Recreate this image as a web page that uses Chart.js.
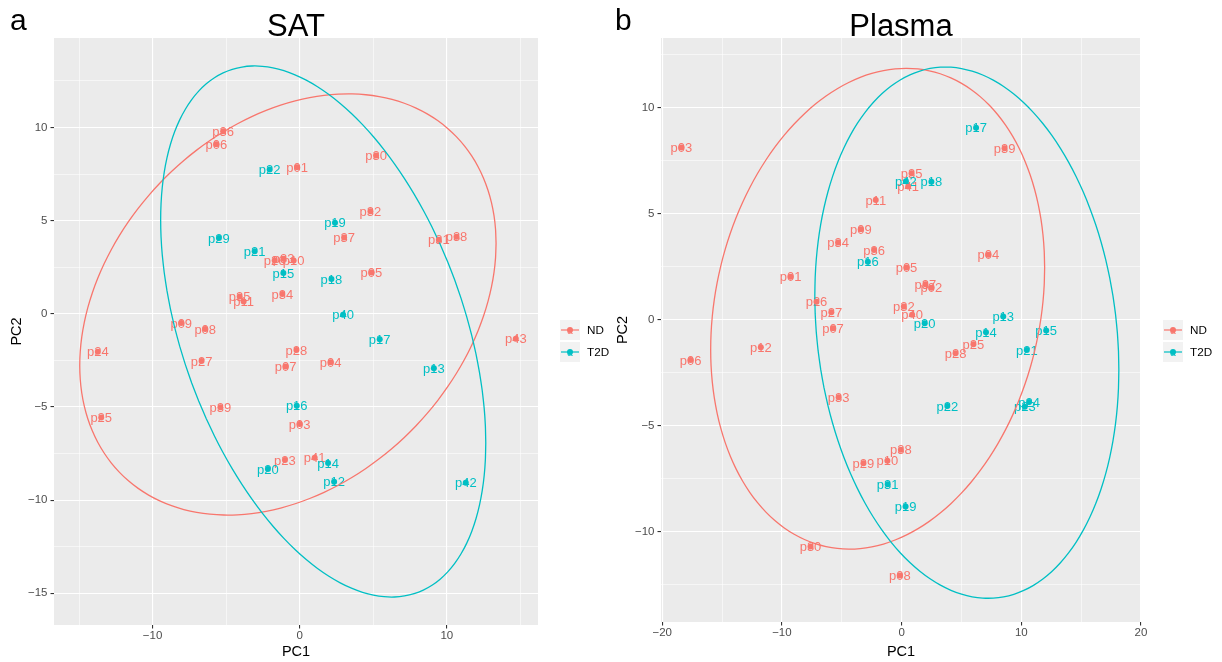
<!DOCTYPE html>
<html lang="en">
<head>
<meta charset="UTF-8">
<title>PCA - SAT and Plasma</title>
<script src="https://cdn.jsdelivr.net/npm/chart.js"></script>
<style>
  body { margin: 0; background: #fff; width: 1222px; height: 662px; overflow: hidden; }
  .panel { position: absolute; top: 0; width: 611px; height: 662px; }
  #satBox { left: 0; }
  #plasmaBox { left: 611px; }
</style>
</head>
<body>
<div class="panel" id="satBox"><canvas id="satChart" width="611" height="662"></canvas></div>
<div class="panel" id="plasmaBox"><canvas id="plasmaChart" width="611" height="662"></canvas></div>

<script>
// ---- SAT panel (a) ----
const satNdNames = ['p36','p06','p01','p30','p32','p37','p31','p38','p05','p26','p33','p10','p34','p35','p11',
                    'p09','p08','p24','p27','p28','p07','p25','p39','p03','p23','p41','p04','p43'];
const satNdX = [-5.2,-5.67,-0.18,5.19,4.81,3.02,9.46,10.66,4.88,-1.70,-1.09,-0.41,-1.18,-4.08,-3.81,
                -8.05,-6.42,-13.72,-6.67,-0.22,-0.95,-13.49,-5.39,0.0,-1.0,1.02,2.11,14.69];
const satNdY = [9.8,9.1,7.87,8.49,5.5,4.1,3.98,4.14,2.22,2.86,2.96,2.86,1.06,0.93,0.66,
                -0.5,-0.82,-2.03,-2.53,-1.94,-2.83,-5.57,-5.02,-5.91,-7.85,-7.72,-2.6,-1.34];

const satT2dNames = ['p22','p29','p21','p15','p19','p18','p40','p17','p13','p16','p20','p14','p12','p42'];
const satT2dX = [-2.04,-5.49,-3.06,-1.11,2.4,2.16,2.95,5.44,9.12,-0.2,-2.16,1.93,2.34,11.29];
const satT2dY = [7.74,4.07,3.35,2.19,4.89,1.87,-0.05,-1.36,-2.92,-4.93,-8.33,-8.01,-9.01,-9.07];

// ellipse: [centre x, centre y, half width, half height, correlation]
const satNdEllipse = [-0.8, 0.5, 14.15, 11.3, 0.29];
const satT2dEllipse = [1.6, -0.95, 11.05, 14.25, -0.42];

const satXTicks = [-15,-10,-5,0,5,10,15];
const satXMajor = [-10,0,10];
const satYTicks = [-15,-12.5,-10,-7.5,-5,-2.5,0,2.5,5,7.5,10,12.5];
const satYMajor = [-15,-10,-5,0,5,10];

// ---- Plasma panel (b) ----
const plasmaNdNames = ['p03','p11','p09','p34','p36','p01','p35','p41','p39','p04','p05','p37','p02','p32','p40',
                       'p25','p28','p26','p27','p07','p12','p06','p33','p29','p10','p38','p30','p08'];
const plasmaNdX = [-18.4,-2.16,-3.4,-5.31,-2.3,-9.27,0.83,0.55,8.6,7.24,0.41,1.99,2.49,0.19,0.88,
                   6.0,4.51,-7.11,-5.87,-5.73,-11.76,-17.63,-5.26,-3.19,-1.19,-0.06,-7.61,-0.14];
const plasmaNdY = [8.13,5.66,4.28,3.65,3.3,2.04,6.92,6.3,8.1,3.07,2.47,1.68,1.52,0.63,0.24,
                   -1.15,-1.57,0.86,0.36,-0.39,-1.29,-1.89,-3.65,-6.76,-6.64,-6.13,-10.69,-12.06];

const plasmaT2dNames = ['p17','p42','p18','p16','p20','p13','p14','p15','p21','p22','p24','p23','p31','p19'];
const plasmaT2dX = [6.22,0.36,2.49,-2.82,1.93,8.49,7.05,12.08,10.46,3.82,10.65,10.29,-1.16,0.33];
const plasmaT2dY = [9.07,6.54,6.52,2.75,-0.16,0.16,-0.58,-0.5,-1.42,-4.06,-3.87,-4.09,-7.75,-8.8];

const plasmaNdEllipse = [-2.0, 0.53, 13.95, 11.34, 0.17];
const plasmaT2dEllipse = [5.45, -0.6, 12.7, 12.53, -0.14];

const plasmaXTicks = [-20,-15,-10,-5,0,5,10,15,20];
const plasmaXMajor = [-20,-10,0,10,20];
const plasmaYTicks = [-12.5,-10,-7.5,-5,-2.5,0,2.5,5,7.5,10,12.5];
const plasmaYMajor = [-10,-5,0,5,10];

const ND_COLOR = '#F8766D';
const T2D_COLOR = '#00BFC4';
const FONT = '"Liberation Sans", Arial, Helvetica, sans-serif';
Chart.defaults.font.family = FONT;

function zip(xs, ys) {
    return xs.map((x, i) => ({ x: x, y: ys[i] }));
}

// outline of a normal-data ellipse from its centre, spread and correlation
function ellipsePath(e) {
    const cx = e[0], cy = e[1], rx = e[2], ry = e[3], rho = e[4];
    const k = Math.sqrt(1 - rho * rho);
    const pts = [];
    for (let i = 0; i <= 90; i++) {
        const t = i / 90 * 2 * Math.PI;
        pts.push({ x: cx + rx * Math.cos(t), y: cy + ry * (rho * Math.cos(t) + k * Math.sin(t)) });
    }
    return pts;
}

function fmt(v) {
    return v < 0 ? '\u2212' + Math.abs(v) : String(v);
}

// grey panel, point labels, titles and the legend
const decoPlugin = {
    id: 'deco',
    beforeDraw(chart, args, opts) {
        const a = chart.chartArea, ctx = chart.ctx;
        ctx.save();
        ctx.fillStyle = '#EBEBEB';
        ctx.fillRect(a.left, a.top, a.right - a.left, a.bottom - a.top);
        ctx.restore();
    },
    beforeDatasetsDraw(chart) {
        const ctx = chart.ctx;
        ctx.save();
        ctx.font = '13px ' + FONT;
        ctx.textAlign = 'center';
        ctx.textBaseline = 'middle';
        chart.data.datasets.forEach((ds, i) => {
            if (!ds.names) return;
            const meta = chart.getDatasetMeta(i);
            ctx.fillStyle = ds.backgroundColor;
            meta.data.forEach((pt, j) => {
                ctx.fillText(ds.names[j], pt.x, pt.y + 1);
            });
        });
        ctx.restore();
    },
    afterDraw(chart, args, opts) {
        const a = chart.chartArea, ctx = chart.ctx;
        ctx.save();
        // tag letter
        ctx.fillStyle = '#000';
        ctx.font = '30px ' + FONT;
        ctx.textAlign = 'left';
        ctx.textBaseline = 'alphabetic';
        ctx.fillText(opts.tag, opts.tagX, 30);
        // title
        ctx.font = '31px ' + FONT;
        ctx.textAlign = 'center';
        ctx.fillText(opts.title, (a.left + a.right) / 2, 36);

        // legend
        const keys = [['ND', ND_COLOR], ['T2D', T2D_COLOR]];
        const kx = a.right + 22;
        keys.forEach((k, i) => {
            const ky = 320 + i * 22;
            ctx.fillStyle = '#F2F2F2';
            ctx.fillRect(kx, ky, 20, 20);
            ctx.strokeStyle = k[1];
            ctx.lineWidth = 1.2;
            ctx.beginPath();
            ctx.moveTo(kx + 1, ky + 10);
            ctx.lineTo(kx + 19, ky + 10);
            ctx.stroke();
            ctx.fillStyle = k[1];
            ctx.font = '10px ' + FONT;
            ctx.textAlign = 'center';
            ctx.textBaseline = 'middle';
            ctx.fillText('a', kx + 10, ky + 11);
            ctx.beginPath();
            ctx.arc(kx + 10, ky + 10, 3, 0, 2 * Math.PI);
            ctx.fill();
            ctx.fillStyle = '#000';
            ctx.font = '11.7px ' + FONT;
            ctx.textAlign = 'left';
            ctx.fillText(k[0], kx + 27, ky + 11);
        });
        ctx.restore();
    }
};

function makeAxis(opts) {
    return {
        type: 'linear',
        position: opts.position,
        min: opts.min,
        max: opts.max,
        afterBuildTicks: s => { s.ticks = opts.ticks.map(v => ({ value: v })); },
        afterFit: s => {
            if (opts.position === 'left') s.width = opts.size;
            else s.height = opts.size;
        },
        border: { display: false },
        grid: {
            color: '#FFFFFF',
            lineWidth: c => (c.tick && opts.major.includes(c.tick.value)) ? 1.1 : 0.55,
            drawTicks: true,
            tickLength: 3.5,
            tickWidth: 1.1,
            tickColor: c => (c.tick && opts.major.includes(c.tick.value)) ? '#333333' : 'rgba(0,0,0,0)'
        },
        ticks: {
            autoSkip: false,
            maxRotation: 0,
            padding: opts.position === 'left' ? 3 : 0.5,
            color: '#4D4D4D',
            font: { size: 11.5 },
            callback: v => opts.major.includes(v) ? fmt(v) : ''
        },
        title: {
            display: true,
            text: opts.title,
            color: '#000',
            font: { size: 14.5, lineHeight: 1 },
            padding: opts.position === 'left' ? { top: opts.titlePad, bottom: 0 } : { top: 0, bottom: opts.titlePad }
        }
    };
}

function makePca(canvasId, p) {
    const ctx = document.getElementById(canvasId).getContext('2d');
    const ellipseStyle = { showLine: true, borderWidth: 1.3, pointRadius: 0, fill: false, tension: 0.15 };
    return new Chart(ctx, {
        type: 'scatter',
        data: {
            datasets: [
                { label: 'ND', data: zip(p.ndX, p.ndY), names: p.ndNames, backgroundColor: ND_COLOR,
                  pointRadius: 3, borderWidth: 0, order: 2 },
                { label: 'T2D', data: zip(p.t2dX, p.t2dY), names: p.t2dNames, backgroundColor: T2D_COLOR,
                  pointRadius: 3, borderWidth: 0, order: 1 },
                Object.assign({ label: 'ND ellipse', data: ellipsePath(p.ndEll), borderColor: ND_COLOR, order: 4 }, ellipseStyle),
                Object.assign({ label: 'T2D ellipse', data: ellipsePath(p.t2dEll), borderColor: T2D_COLOR, order: 3 }, ellipseStyle)
            ]
        },
        options: {
            responsive: false,
            animation: false,
            layout: { padding: { left: 0, right: p.padRight, top: 38, bottom: 0 } },
            scales: {
                x: makeAxis({ position: 'bottom', min: p.xMin, max: p.xMax, ticks: p.xTicks, major: p.xMajor,
                              size: p.xSize, title: 'PC1', titlePad: 3 }),
                y: makeAxis({ position: 'left', min: p.yMin, max: p.yMax, ticks: p.yTicks, major: p.yMajor,
                              size: p.ySize, title: 'PC2', titlePad: p.yTitlePad })
            },
            plugins: {
                legend: { display: false },
                tooltip: { enabled: false },
                deco: { title: p.title, tag: p.tag, tagX: p.tagX }
            }
        },
        plugins: [decoPlugin]
    });
}

makePca('satChart', {
    title: 'SAT', tag: 'a', tagX: 10,
    ndNames: satNdNames, ndX: satNdX, ndY: satNdY,
    t2dNames: satT2dNames, t2dX: satT2dX, t2dY: satT2dY,
    ndEll: satNdEllipse, t2dEll: satT2dEllipse,
    xMin: -16.7, xMax: 16.2, yMin: -16.7, yMax: 14.8,
    xTicks: satXTicks, xMajor: satXMajor, yTicks: satYTicks, yMajor: satYMajor,
    padRight: 73, ySize: 54, xSize: 37, yTitlePad: 10
});

makePca('plasmaChart', {
    title: 'Plasma', tag: 'b', tagX: 4,
    ndNames: plasmaNdNames, ndX: plasmaNdX, ndY: plasmaNdY,
    t2dNames: plasmaT2dNames, t2dX: plasmaT2dX, t2dY: plasmaT2dY,
    ndEll: plasmaNdEllipse, t2dEll: plasmaT2dEllipse,
    xMin: -20.1, xMax: 20.0, yMin: -14.25, yMax: 13.3,
    xTicks: plasmaXTicks, xMajor: plasmaXMajor, yTicks: plasmaYTicks, yMajor: plasmaYMajor,
    padRight: 81, ySize: 50, xSize: 40, yTitlePad: 5
});
</script>
</body>
</html>
